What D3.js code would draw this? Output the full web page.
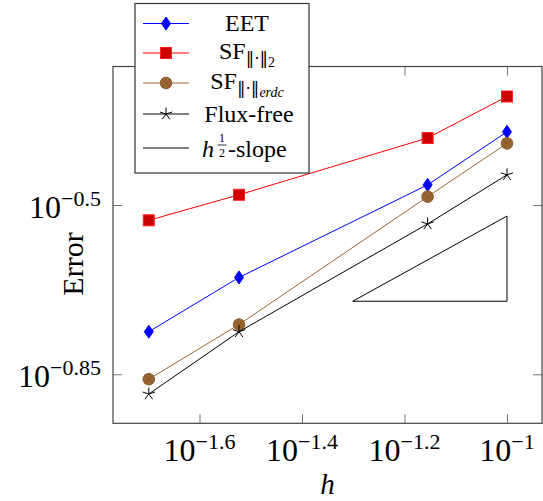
<!DOCTYPE html>
<html>
<head>
<meta charset="utf-8">
<script src="https://cdn.jsdelivr.net/npm/d3@7"></script>
<style>
  body { margin: 0; background: #fff; }
  svg { font-family: "Liberation Serif", "DejaVu Serif", serif; }
</style>
</head>
<body>
<svg id="chart" width="543" height="501"></svg>
<script>
/***************************************************************
    Data
****************************************************************/
const hValues = [0.02, 0.03, 0.07, 0.1];
const eetErr = [0.173, 0.224, 0.348, 0.448];
const sf2Err = [0.294, 0.332, 0.435, 0.530];
const sfErdcErr = [0.138, 0.179, 0.329, 0.424];
const fluxFreeErr = [0.1286, 0.173, 0.289, 0.365];
const slopeH = [0.05, 0.1, 0.1, 0.05];
const slopeErr = [0.2, 0.2, 0.3, 0.2];

const xTickExp = [-1.6, -1.4, -1.2, -1];
const xTickLabels = ["\u22121.6", "\u22121.4", "\u22121.2", "\u22121"];
const yTickExp = [-0.5, -0.85];
const yTickLabels = ["\u22120.5", "\u22120.85"];

/***************************************************************
    Layout
****************************************************************/
const box = { left: 113, right: 542, top: 66.5, bottom: 423.3 };
const svg = d3.select("#chart");

const x = d3.scaleLog()
    .domain([Math.pow(10, -1.7688), Math.pow(10, -0.9317)])
    .range([box.left, box.right]);
const y = d3.scaleLog()
    .domain([Math.pow(10, -0.9513), Math.pow(10, -0.2137)])
    .range([box.bottom, box.top]);

const xTicks = xTickExp.map(e => Math.pow(10, e));
const yTicks = yTickExp.map(e => Math.pow(10, e));

// inward ticks on all four sides
const tickLen = 9;
function tickAxis(axis, tx, ty) {
    const g = svg.append("g").attr("transform", `translate(${tx},${ty})`).call(axis);
    g.select(".domain").remove();
    g.selectAll("text").remove();
    g.selectAll("line").attr("stroke", "#777").attr("stroke-width", 1);
}
tickAxis(d3.axisBottom(x).tickValues(xTicks).tickSize(-tickLen), 0, box.bottom);
tickAxis(d3.axisTop(x).tickValues(xTicks).tickSize(-tickLen), 0, box.top);
tickAxis(d3.axisLeft(y).tickValues(yTicks).tickSize(-tickLen), box.left, 0);
tickAxis(d3.axisRight(y).tickValues(yTicks).tickSize(-tickLen), box.right, 0);

svg.append("rect")
    .attr("x", box.left).attr("y", box.top)
    .attr("width", box.right - box.left).attr("height", box.bottom - box.top)
    .attr("fill", "none").attr("stroke", "#444").attr("stroke-width", 1.2);

// tick labels 10^e
const xLab = svg.append("g").selectAll("text").data(xTicks).enter().append("text")
    .attr("x", d => x(d)).attr("y", 461).attr("text-anchor", "middle")
    .attr("font-size", 32);
xLab.append("tspan").text("10");
xLab.append("tspan").attr("font-size", 22).attr("dy", -12).text((d, i) => xTickLabels[i]);

const yLab = svg.append("g").selectAll("text").data(yTicks).enter().append("text")
    .attr("x", 101).attr("y", d => y(d) + 13).attr("text-anchor", "end")
    .attr("font-size", 32);
yLab.append("tspan").text("10");
yLab.append("tspan").attr("font-size", 22).attr("dy", -12).text((d, i) => yTickLabels[i]);

// axis labels
svg.append("text").attr("x", (box.left + box.right) / 2).attr("y", 494)
    .attr("text-anchor", "middle").attr("font-size", 29).attr("font-style", "italic").text("h");
svg.append("text").attr("transform", "translate(83,264) rotate(-90)")
    .attr("text-anchor", "middle").attr("font-size", 30).text("Error");

/***************************************************************
    Series
****************************************************************/
const series = [
    { name: "EET", values: eetErr, line: "#0000ff", fill: "#0000ff", stroke: "#0000ff", mark: "diamond" },
    { name: "SF2", values: sf2Err, line: "#ff0000", fill: "#cc0000", stroke: "#ff2020", mark: "square" },
    { name: "SFerdc", values: sfErdcErr, line: "#996633", fill: "#996633", stroke: "#8a5a2c", mark: "otimes" },
    { name: "Flux-free", values: fluxFreeErr, line: "#000000", fill: "none", stroke: "#000000", mark: "star" }
];

const lineGen = d3.line().x(d => x(d[0])).y(d => y(d[1]));

function drawMark(g, type, cx, cy, s) {
    if (type === "diamond") {
        g.append("path").attr("d", `M${cx},${cy - 6.5}L${cx + 4.5},${cy}L${cx},${cy + 6.5}L${cx - 4.5},${cy}Z`)
            .attr("fill", s.fill).attr("stroke", s.stroke).attr("stroke-width", 1);
    } else if (type === "square") {
        g.append("rect").attr("x", cx - 5.5).attr("y", cy - 5.5).attr("width", 11).attr("height", 11)
            .attr("fill", s.fill).attr("stroke", s.stroke).attr("stroke-width", 1);
    } else if (type === "otimes") {
        g.append("circle").attr("cx", cx).attr("cy", cy).attr("r", 5.8)
            .attr("fill", s.fill).attr("stroke", s.stroke).attr("stroke-width", 1);
        const r = 4.1;
        g.append("path").attr("d", `M${cx - r},${cy - r}L${cx + r},${cy + r}M${cx - r},${cy + r}L${cx + r},${cy - r}`)
            .attr("stroke", "#7a4f24").attr("stroke-width", 0.8);
    } else if (type === "star") {
        let d = "";
        for (let k = 0; k < 5; k++) {
            const a = -Math.PI / 2 + k * 2 * Math.PI / 5;
            d += `M${cx},${cy}L${cx + 6.5 * Math.cos(a)},${cy + 6.5 * Math.sin(a)}`;
        }
        g.append("path").attr("d", d).attr("stroke", s.stroke).attr("stroke-width", 1).attr("fill", "none");
    }
}

// slope triangle
svg.append("path")
    .attr("d", lineGen(slopeH.map((h, i) => [h, slopeErr[i]])))
    .attr("fill", "none").attr("stroke", "#000").attr("stroke-width", 1);

series.forEach(s => {
    const pts = hValues.map((h, i) => [h, s.values[i]]);
    svg.append("path").attr("d", lineGen(pts))
        .attr("fill", "none").attr("stroke", s.line).attr("stroke-width", 1);
    const g = svg.append("g");
    pts.forEach(p => drawMark(g, s.mark, x(p[0]), y(p[1]), s));
});

/***************************************************************
    Legend
****************************************************************/
const leg = svg.append("g");
leg.append("rect").attr("x", 135).attr("y", 3.5).attr("width", 174).attr("height", 169.5)
    .attr("fill", "#fff").attr("stroke", "#333").attr("stroke-width", 1.2);

const legY = [23.5, 53, 83, 114, 148];
const textX = 247;
series.forEach((s, i) => {
    leg.append("line").attr("x1", 143).attr("x2", 189).attr("y1", legY[i]).attr("y2", legY[i])
        .attr("stroke", s.line).attr("stroke-width", 1);
    drawMark(leg, s.mark, 166, legY[i], s);
});
leg.append("line").attr("x1", 143).attr("x2", 189).attr("y1", legY[4]).attr("y2", legY[4])
    .attr("stroke", "#000").attr("stroke-width", 1);

const fs = 24;
leg.append("text").attr("x", textX).attr("y", legY[0] + 7.5).attr("text-anchor", "middle")
    .attr("font-size", fs).text("EET");

function normSub(t, sub, italic) {
    t.append("tspan").text("SF");
    t.append("tspan").attr("font-size", 17).attr("dy", 5)
        .attr("font-family", "DejaVu Serif").text("\u2016\u00b7\u2016");
    const s = t.append("tspan").attr("font-size", 14).attr("dy", 3).text(sub);
    if (italic) s.attr("font-style", "italic");
}
normSub(leg.append("text").attr("x", textX).attr("y", legY[1] + 5.5).attr("text-anchor", "middle")
    .attr("font-size", fs), "2", false);
normSub(leg.append("text").attr("x", textX).attr("y", legY[2] + 5.5).attr("text-anchor", "middle")
    .attr("font-size", fs), "erdc", true);

leg.append("text").attr("x", textX + 2).attr("y", legY[3] + 7.5).attr("text-anchor", "middle")
    .attr("font-size", fs).text("Flux-free");

const t5 = leg.append("text").attr("x", 202).attr("y", legY[4] + 9).attr("font-size", fs);
t5.append("tspan").attr("font-style", "italic").text("h");
t5.append("tspan").attr("dx", 14).text("-slope");
leg.append("text").attr("x", 222).attr("y", legY[4] - 6).attr("text-anchor", "middle")
    .attr("font-size", 12).text("1");
leg.append("line").attr("x1", 217.5).attr("x2", 226.5).attr("y1", legY[4] - 3).attr("y2", legY[4] - 3)
    .attr("stroke", "#000").attr("stroke-width", 0.8);
leg.append("text").attr("x", 222).attr("y", legY[4] + 9).attr("text-anchor", "middle")
    .attr("font-size", 12).text("2");
</script>
</body>
</html>
